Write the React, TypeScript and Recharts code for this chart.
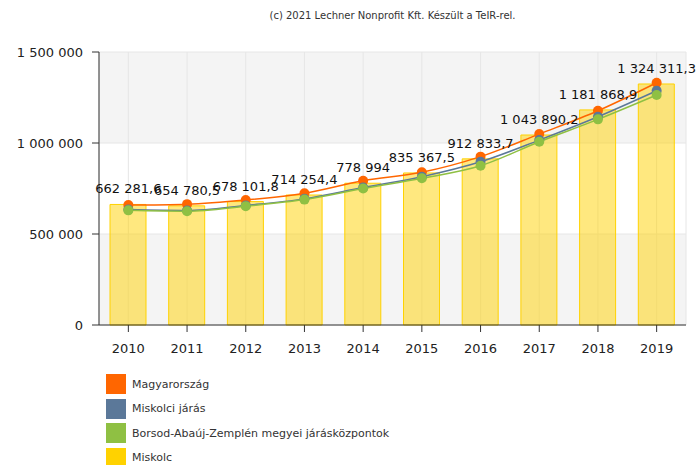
import React from "react";
import { ComposedChart, Bar, Line, XAxis, YAxis, CartesianGrid, LabelList } from "recharts";

const years = ["2010", "2011", "2012", "2013", "2014", "2015", "2016", "2017", "2018", "2019"];
const miskolc = [662281.6, 654780.5, 678101.8, 714254.4, 778994, 835367.5, 912833.7, 1043890.2, 1181868.9, 1324311.3];
const magyarorszag = [659000, 664000, 687000, 724000, 793000, 839000, 925000, 1049000, 1177000, 1331000];
const miskolciJaras = [634000, 629000, 657000, 693000, 755000, 815000, 897000, 1016000, 1144000, 1287000];
const bazKozpontok = [630000, 625000, 653000, 689000, 750000, 806000, 875000, 1007000, 1130000, 1264000];
const yTicks = [0, 500000, 1000000, 1500000];

const series = [
  { name: "Magyarország", color: "#ff6600" },
  { name: "Miskolci járás", color: "#5b7899" },
  { name: "Borsod-Abaúj-Zemplén megyei járásközpontok", color: "#8fc043" },
  { name: "Miskolc", color: "#ffd200" },
];

const data = years.map((year, i) => ({
  year,
  miskolc: miskolc[i],
  magyarorszag: magyarorszag[i],
  jaras: miskolciJaras[i],
  baz: bazKozpontok[i],
}));

const FONT = "'DejaVu Sans', Verdana, sans-serif";

const groupThousands = (s: string) => s.replace(/\B(?=(\d{3})+(?!\d))/g, " ");
const fmtTick = (v: number) => groupThousands(String(v));
const fmtLabel = (v: any) => {
  const [int, dec] = String(v).split(".");
  return groupThousands(int) + (dec ? "," + dec : "");
};

export default function App() {
  return (
    <div style={{ position: "absolute", left: 0, top: 0, width: 697, height: 465, fontFamily: FONT }}>
      <div
        style={{
          position: "absolute",
          top: 10,
          left: 0,
          width: 785,
          textAlign: "center",
          fontSize: 10,
          color: "#333",
        }}
      >
        (c) 2021 Lechner Nonprofit Kft. Készült a TeIR-rel.
      </div>
      <ComposedChart
        width={697}
        height={465}
        data={data}
        margin={{ top: 52, right: 11, left: 0, bottom: 0 }}
        style={{ fontFamily: FONT }}
      >
        <CartesianGrid stroke="#e6e6e6" horizontalFill={["#f4f4f4", "#ffffff"]} fillOpacity={1} />
        <XAxis
          dataKey="year"
          height={140}
          tickSize={7}
          tickMargin={12}
          axisLine={{ stroke: "#333" }}
          tickLine={{ stroke: "#333" }}
          tick={{ fill: "#222", fontSize: 13 }}
        />
        <YAxis
          width={99}
          domain={[0, 1500000]}
          ticks={yTicks}
          tickFormatter={fmtTick}
          tickSize={7}
          tickMargin={9}
          axisLine={{ stroke: "#333" }}
          tickLine={{ stroke: "#333" }}
          tick={{ fill: "#222", fontSize: 13 }}
        />
        <Bar
          dataKey="miskolc"
          barSize={36}
          fill="#ffd200"
          fillOpacity={0.5}
          stroke="#ffd200"
          strokeWidth={1}
          isAnimationActive={false}
        />
        <Line
          type="monotone"
          dataKey="magyarorszag"
          stroke="#ff6600"
          strokeWidth={1.5}
          dot={{ r: 5, fill: "#ff6600", stroke: "none" }}
          activeDot={false}
          isAnimationActive={false}
        />
        <Line
          type="monotone"
          dataKey="jaras"
          stroke="#5b7899"
          strokeWidth={1.5}
          dot={{ r: 5, fill: "#5b7899", stroke: "none" }}
          activeDot={false}
          isAnimationActive={false}
        />
        <Line
          type="monotone"
          dataKey="baz"
          stroke="#8fc043"
          strokeWidth={1.5}
          dot={{ r: 5, fill: "#8fc043", stroke: "none" }}
          activeDot={false}
          isAnimationActive={false}
        />
        {/* invisible series carrying the bar value labels so they sit above the lines */}
        <Line dataKey="miskolc" stroke="none" dot={false} activeDot={false} isAnimationActive={false}>
          <LabelList dataKey="miskolc" position="top" offset={11} formatter={fmtLabel} fill="#111" fontSize={13} />
        </Line>
      </ComposedChart>
      <div style={{ position: "absolute", left: 106, top: 374 }}>
        {series.map((s) => (
          <div key={s.name} style={{ display: "flex", alignItems: "center", height: 20, marginBottom: 4.6 }}>
            <div style={{ width: 20, height: 20, background: s.color }} />
            <span style={{ marginLeft: 6, fontSize: 11, color: "#333" }}>{s.name}</span>
          </div>
        ))}
      </div>
    </div>
  );
}
